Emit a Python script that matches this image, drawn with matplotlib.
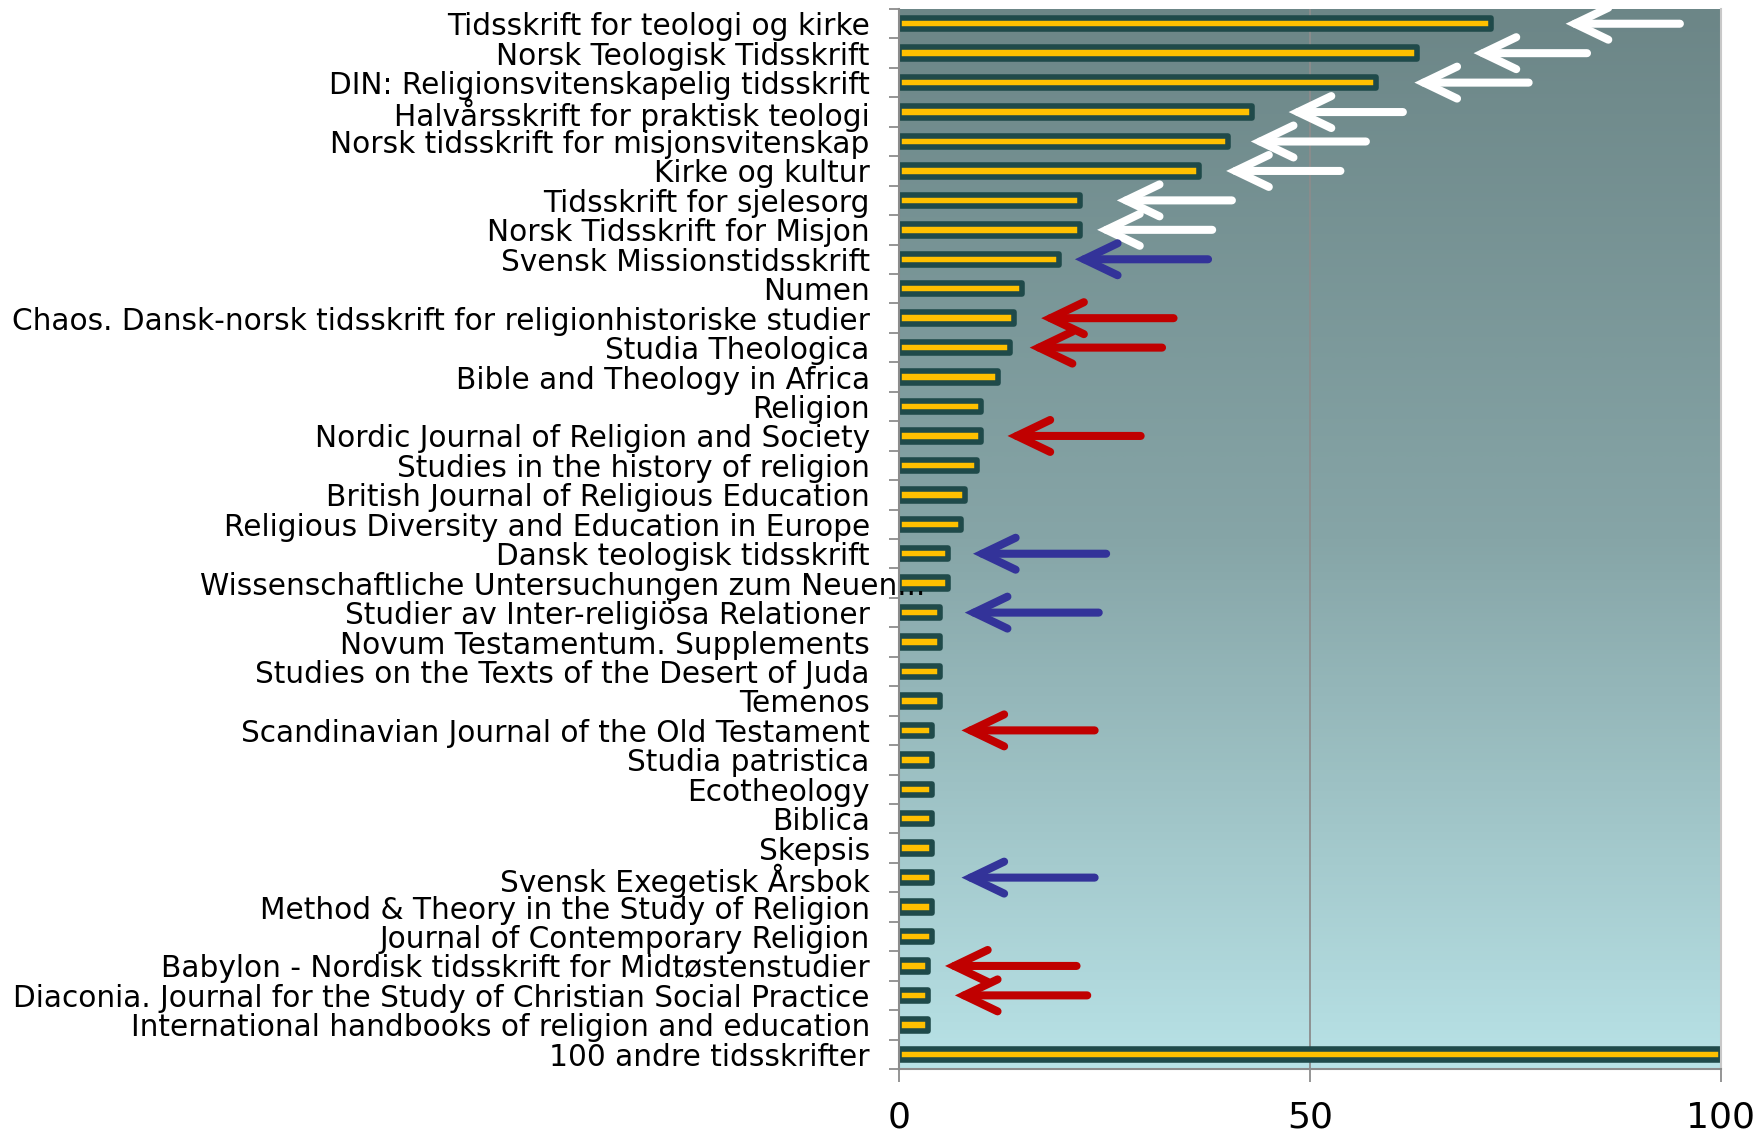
import numpy as np
import matplotlib
matplotlib.use("Agg")
import matplotlib.pyplot as plt
from matplotlib.colors import LinearSegmentedColormap

# journals, top to bottom
journals = [
    "Tidsskrift for teologi og kirke",
    "Norsk Teologisk Tidsskrift",
    "DIN: Religionsvitenskapelig tidsskrift",
    "Halvårsskrift for praktisk teologi",
    "Norsk tidsskrift for misjonsvitenskap",
    "Kirke og kultur",
    "Tidsskrift for sjelesorg",
    "Norsk Tidsskrift for Misjon",
    "Svensk Missionstidsskrift",
    "Numen",
    "Chaos. Dansk-norsk tidsskrift for religionhistoriske studier",
    "Studia Theologica",
    "Bible and Theology in Africa",
    "Religion",
    "Nordic Journal of Religion and Society",
    "Studies in the history of religion",
    "British Journal of Religious Education",
    "Religious Diversity and Education in Europe",
    "Dansk teologisk tidsskrift",
    "Wissenschaftliche Untersuchungen zum Neuen...",
    "Studier av Inter-religiösa Relationer",
    "Novum Testamentum. Supplements",
    "Studies on the Texts of the Desert of Juda",
    "Temenos",
    "Scandinavian Journal of the Old Testament",
    "Studia patristica",
    "Ecotheology",
    "Biblica",
    "Skepsis",
    "Svensk Exegetisk Årsbok",
    "Method & Theory in the Study of Religion",
    "Journal of Contemporary Religion",
    "Babylon - Nordisk tidsskrift for Midtøstenstudier",
    "Diaconia. Journal for the Study of Christian Social Practice",
    "International handbooks of religion and education",
    "100 andre tidsskrifter",
]
counts = [72, 63, 58, 43, 40, 36.5, 22, 22, 19.5, 15, 14, 13.5, 12, 10, 10, 9.5,
          8, 7.5, 6, 6, 5, 5, 5, 5, 4, 4, 4, 4, 4, 4, 4, 4, 3.5, 3.5, 3.5, 100]

# arrows: row index, head x, tail x, colour
arrow_rows = [0, 1, 2, 3, 4, 5, 6, 7, 8, 10, 11, 14, 18, 20, 24, 29, 32, 33]
arrow_heads = [81.1, 69.9, 62.7, 47.4, 42.8, 39.8, 26.5, 24.1, 21.4, 17.3, 15.9,
               13.2, 9.0, 8.0, 7.6, 7.6, 5.6, 6.8]
arrow_tails = [95.0, 83.7, 76.6, 61.3, 56.8, 53.7, 40.5, 38.1, 37.6, 33.4, 32.0,
               29.4, 25.2, 24.3, 23.8, 23.8, 21.6, 22.9]
arrow_colors = ["white"] * 8 + ["#333399", "#C00000", "#C00000", "#C00000",
                                "#333399", "#333399", "#C00000", "#333399",
                                "#C00000", "#C00000"]

xticks = [0, 50, 100]

fig = plt.figure(figsize=(17.56, 11.36), dpi=100)
ax = fig.add_axes([899 / 1756, 67 / 1136, 822 / 1756, 1060 / 1136])

n = len(journals)
ypos = np.arange(n)

# background gradient
cmap = LinearSegmentedColormap.from_list("bg", ["#6C8687", "#86A5A7", "#B8E2E6"])
grad = np.linspace(0, 1, 256).reshape(-1, 1)
ax.imshow(grad, cmap=cmap, aspect="auto", extent=[0, 100, n - 0.5, -0.5],
          zorder=0, interpolation="bicubic")

ax.axvline(50, color="#8C8C8C", lw=1.3, zorder=1)

ax.barh(ypos, counts, height=0.39, color="#FFC000", edgecolor="#1F4A4A",
        linewidth=4.0, joinstyle="round", zorder=2)

for r, h, t, c in zip(arrow_rows, arrow_heads, arrow_tails, arrow_colors):
    ax.annotate("", xy=(h, r), xytext=(t, r),
                arrowprops=dict(arrowstyle="->,head_length=2.4,head_width=1.15",
                                mutation_scale=10, lw=5.8, color=c,
                                shrinkA=0, shrinkB=0, capstyle="round",
                                joinstyle="miter"),
                zorder=3)

ax.set_xlim(0, 100)
ax.set_ylim(n - 0.5, -0.5)

ax.set_xticks(xticks)
ax.set_xticklabels([str(v) for v in xticks], fontsize=26)
ax.tick_params(axis="x", length=9, width=1.3, color="#8C8C8C", pad=14)

labels = list(journals)
wiss = labels.index("Wissenschaftliche Untersuchungen zum Neuen...")
labels[wiss] = ""
ax.set_yticks(ypos)
ax.set_yticklabels(labels, fontsize=21.3)
ax.tick_params(axis="y", length=0, pad=21)
ax.set_yticks(np.arange(n + 1) - 0.5, minor=True)
ax.tick_params(axis="y", which="minor", length=7, width=1.3, color="#8C8C8C")
ax.text(0.0316, wiss, journals[wiss], transform=ax.get_yaxis_transform(),
        ha="right", va="center_baseline", fontsize=21.3, zorder=5, clip_on=False)

for s in ["left", "bottom"]:
    ax.spines[s].set_color("#8C8C8C")
    ax.spines[s].set_linewidth(1.5)
ax.spines["top"].set_visible(False)
ax.spines["right"].set_color("#C8C8C8")
ax.spines["right"].set_linewidth(1.5)

fig.savefig("out.png", dpi=100)
